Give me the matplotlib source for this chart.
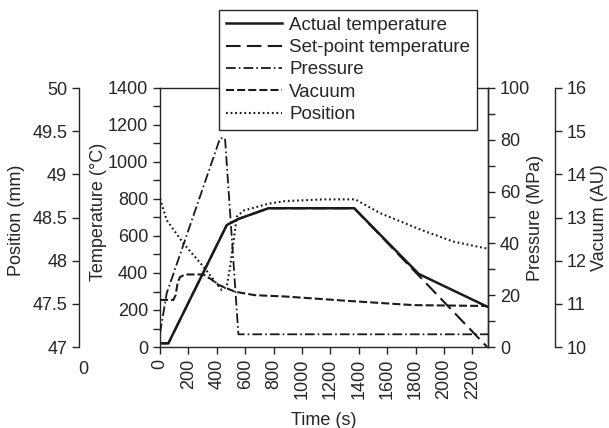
import matplotlib
matplotlib.use("Agg")
import matplotlib.pyplot as plt
from matplotlib.ticker import MultipleLocator, FormatStrFormatter

# Values
time_actual = [0, 59, 470, 552, 764, 1368, 1822, 2304]
temp_actual = [20, 20, 659, 692, 750, 750, 395, 218]

time_set = [0, 59, 470, 552, 764, 1368, 2304]
temp_set = [20, 20, 659, 692, 750, 750, 0]

time_press = [0, 47, 423, 458, 552, 2310]
pressure = [5.3, 20.7, 80.6, 80.6, 4.9, 4.9]

time_vac = [0, 94, 110, 125, 141, 176, 306, 360, 411, 529, 670, 881, 1316, 1786, 2304]
vacuum = [11.09, 11.09, 11.2, 11.5, 11.62, 11.68, 11.68, 11.57, 11.44, 11.28, 11.2,
          11.17, 11.07, 10.97, 10.95]

time_pos = [0, 47, 165, 306, 434, 470, 494, 520, 541, 588, 764, 881, 1152, 1375,
            1551, 1834, 2068, 2304]
position = [48.72, 48.47, 48.20, 47.93, 47.66, 47.70, 47.93, 48.25, 48.51, 48.58,
            48.66, 48.69, 48.71, 48.71, 48.55, 48.36, 48.22, 48.14]

labels = ["Actual temperature", "Set-point temperature", "Pressure", "Vacuum",
          "Position"]

text_col = "#262626"
line_col = "#1a1a1a"
fs = 13

plt.rcParams["font.family"] = ["Liberation Sans", "DejaVu Sans"]
plt.rcParams["lines.scale_dashes"] = False
plt.rcParams["text.color"] = text_col
plt.rcParams["axes.labelcolor"] = text_col
plt.rcParams["xtick.color"] = text_col
plt.rcParams["ytick.color"] = text_col
plt.rcParams["axes.edgecolor"] = text_col

W, H = 609, 428
fig = plt.figure(figsize=(W / 100, H / 100), dpi=100)
left, right, top, bottom = 160, 488, 88, 347
span = right - left
ax = fig.add_axes([left / W, 1 - bottom / H, span / W, (bottom - top) / H])

ax_p = ax.twinx()
ax_v = ax.twinx()
ax_pos = ax.twinx()

for a in (ax, ax_p, ax_v, ax_pos):
    for s in a.spines.values():
        s.set_linewidth(1.0)
    a.tick_params(labelsize=fs, length=5, width=1.0, direction="out")
    a.tick_params(which="minor", length=5, width=1.0, direction="out")

h1, = ax.plot(time_actual, temp_actual, color=line_col, lw=1.8, ls="-")
h2, = ax.plot(time_set, temp_set, color=line_col, lw=1.5, ls=(0, (10.5, 4.5)))
h3, = ax_p.plot(time_press, pressure, color=line_col, lw=1.3,
                ls=(0, (7, 2.2, 1.2, 2.2)))
h4, = ax_v.plot(time_vac, vacuum, color=line_col, lw=1.5, ls=(0, (5.8, 2.2)))
h5, = ax_pos.plot(time_pos, position, color=line_col, lw=1.5, ls=(0, (1.3, 2.0)))

ax.set_xlim(0, 2310)
ax.set_ylim(0, 1400)
ax.xaxis.set_major_locator(MultipleLocator(200))
ax.yaxis.set_major_locator(MultipleLocator(200))
ax.yaxis.set_minor_locator(MultipleLocator(100))
for t in ax.get_xticklabels():
    t.set_rotation(90)
ax.set_xlabel("Time (s)", fontsize=fs, labelpad=9)
ax.set_ylabel("Temperature (°C)", fontsize=fs)
ax.yaxis.set_label_coords((107 - left) / span, 0.52)

ax_p.set_ylim(0, 100)
ax_p.yaxis.set_major_locator(MultipleLocator(20))
ax_p.yaxis.set_minor_locator(MultipleLocator(10))
ax_p.set_ylabel("Pressure (MPa)", fontsize=fs)
ax_p.yaxis.set_label_coords((527 - left) / span, 0.5)
for s in ("left", "top", "bottom"):
    ax_p.spines[s].set_visible(False)

ax_v.set_ylim(10, 16)
ax_v.yaxis.set_major_locator(MultipleLocator(1))
ax_v.spines["right"].set_position(("axes", (555 - left) / span))
for s in ("left", "top", "bottom"):
    ax_v.spines[s].set_visible(False)
ax_v.set_ylabel("Vacuum (AU)", fontsize=fs)
ax_v.yaxis.set_label_coords((591 - left) / span, 0.5)

ax_pos.set_ylim(47, 50)
ax_pos.yaxis.set_major_locator(MultipleLocator(0.5))
ax_pos.yaxis.set_major_formatter(FormatStrFormatter("%g"))
ax_pos.spines["left"].set_position(("axes", (79 - left) / span))
ax_pos.spines["left"].set_visible(True)
for s in ("right", "top", "bottom"):
    ax_pos.spines[s].set_visible(False)
ax_pos.yaxis.set_ticks_position("left")
ax_pos.yaxis.set_label_position("left")
ax_pos.set_ylabel("Position (mm)", fontsize=fs)
ax_pos.yaxis.set_label_coords((25 - left) / span, 0.49)

fig.text(83 / W, 1 - 370 / H, "0", fontsize=fs, ha="center", va="center")

leg = fig.legend([h1, h2, h3, h4, h5], labels, loc="upper left",
                 bbox_to_anchor=(219 / W, 1 - 10 / H), fontsize=13.5,
                 frameon=True, fancybox=False, framealpha=1, edgecolor=text_col,
                 handlelength=3.0, handletextpad=0.4, labelspacing=0.28,
                 borderpad=0.35, borderaxespad=0)
leg.get_frame().set_linewidth(1.0)
leg.set_zorder(10)

fig.savefig("out.png", dpi=100)
